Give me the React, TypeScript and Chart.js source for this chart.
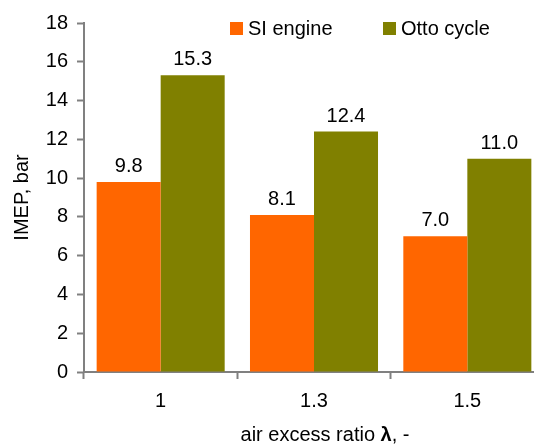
import { useEffect, useRef } from "react";
import { Chart, registerables } from "chart.js";

Chart.register(...registerables);

// Air excess ratio categories and IMEP values (bar)
const categories = ["1", "1.3", "1.5"];
const siEngine = [9.8, 8.1, 7.0];
const ottoCycle = [15.3, 12.4, 11.0];
const yMin = 0;
const yMax = 18;
const yStep = 2;

const seriesNames = ["SI engine", "Otto cycle"];
const seriesColors = ["#FF6600", "#808000"];

const FONT = '"Liberation Sans", Arial, Helvetica, sans-serif';
const FONT_SIZE = 20;
const AXIS_GRAY = "#808080";

// Value printed above each bar
const valueLabels = {
  id: "valueLabels",
  afterDatasetsDraw(chart: any) {
    const { ctx } = chart;
    ctx.save();
    ctx.font = `${FONT_SIZE}px ${FONT}`;
    ctx.fillStyle = "#000";
    ctx.textAlign = "center";
    ctx.textBaseline = "alphabetic";
    chart.data.datasets.forEach((ds: any, i: number) => {
      const meta = chart.getDatasetMeta(i);
      meta.data.forEach((bar: any, j: number) => {
        const v = ds.data[j] as number;
        ctx.fillText(v.toFixed(1), bar.x, bar.y - 10);
      });
    });
    ctx.restore();
  },
};

// Legend drawn inside the top of the plot area
const insideLegend = {
  id: "insideLegend",
  afterDraw(chart: any) {
    const { ctx } = chart;
    const entries = [
      { x: 230, label: seriesNames[0], color: seriesColors[0] },
      { x: 383, label: seriesNames[1], color: seriesColors[1] },
    ];
    ctx.save();
    ctx.font = `${FONT_SIZE}px ${FONT}`;
    ctx.textBaseline = "middle";
    ctx.textAlign = "left";
    entries.forEach((e) => {
      ctx.fillStyle = e.color;
      ctx.fillRect(e.x, 22, 13, 13);
      ctx.fillStyle = "#000";
      ctx.fillText(e.label, e.x + 18, 29);
    });
    ctx.restore();
  },
};

// X-axis title with a bold lambda
const xTitle = {
  id: "xTitle",
  afterDraw(chart: any) {
    const { ctx } = chart;
    const parts = [
      { text: "air excess ratio ", bold: false },
      { text: "\u03BB", bold: true },
      { text: ", -", bold: false },
    ];
    ctx.save();
    ctx.fillStyle = "#000";
    ctx.textBaseline = "alphabetic";
    ctx.textAlign = "left";
    const fontFor = (b: boolean) => `${b ? "bold " : ""}${FONT_SIZE}px ${FONT}`;
    let total = 0;
    parts.forEach((p) => {
      ctx.font = fontFor(p.bold);
      total += ctx.measureText(p.text).width;
    });
    let x = 325 - total / 2;
    parts.forEach((p) => {
      ctx.font = fontFor(p.bold);
      ctx.fillText(p.text, x, 441);
      x += ctx.measureText(p.text).width;
    });
    ctx.restore();
  },
};

export default function App() {
  const canvasRef = useRef<HTMLCanvasElement | null>(null);

  useEffect(() => {
    if (!canvasRef.current) return;
    const chart = new Chart(canvasRef.current, {
      type: "bar",
      data: {
        labels: categories,
        datasets: [
          {
            label: seriesNames[0],
            data: siEngine,
            backgroundColor: seriesColors[0],
            borderWidth: 0,
            categoryPercentage: 0.835,
            barPercentage: 1,
          },
          {
            label: seriesNames[1],
            data: ottoCycle,
            backgroundColor: seriesColors[1],
            borderWidth: 0,
            categoryPercentage: 0.835,
            barPercentage: 1,
          },
        ],
      },
      options: {
        responsive: false,
        animation: false,
        devicePixelRatio: 1,
        layout: { padding: { top: 23, left: 0, right: 0, bottom: 0 } },
        plugins: {
          legend: { display: false },
          tooltip: { enabled: false },
        },
        scales: {
          x: {
            afterFit: (scale: any) => {
              scale.height = 73;
            },
            grid: {
              offset: true,
              drawOnChartArea: false,
              drawTicks: true,
              tickLength: 7,
              tickWidth: 2,
              tickColor: AXIS_GRAY,
              color: AXIS_GRAY,
            },
            border: { display: true, color: AXIS_GRAY, width: 2 },
            ticks: {
              color: "#000",
              padding: 10,
              font: { family: FONT, size: FONT_SIZE },
              maxRotation: 0,
            },
          },
          y: {
            min: yMin,
            max: yMax,
            afterFit: (scale: any) => {
              scale.width = 84;
            },
            grid: {
              drawOnChartArea: false,
              drawTicks: true,
              tickLength: 7,
              tickWidth: 2,
              tickColor: AXIS_GRAY,
              color: AXIS_GRAY,
            },
            border: { display: true, color: AXIS_GRAY, width: 2 },
            ticks: {
              stepSize: yStep,
              color: "#000",
              padding: 9,
              font: { family: FONT, size: FONT_SIZE },
            },
            title: {
              display: true,
              text: "IMEP, bar",
              color: "#000",
              font: { family: FONT, size: FONT_SIZE },
              padding: { top: 10, bottom: 0 },
            },
          },
        },
      },
      plugins: [valueLabels, insideLegend, xTitle],
    });
    return () => chart.destroy();
  }, []);

  return (
    <div
      style={{
        position: "fixed",
        left: 0,
        top: 0,
        width: 534,
        height: 445,
        overflow: "hidden",
        background: "#fff",
      }}
    >
      <canvas ref={canvasRef} width={544} height={445} style={{ display: "block" }} />
    </div>
  );
}
